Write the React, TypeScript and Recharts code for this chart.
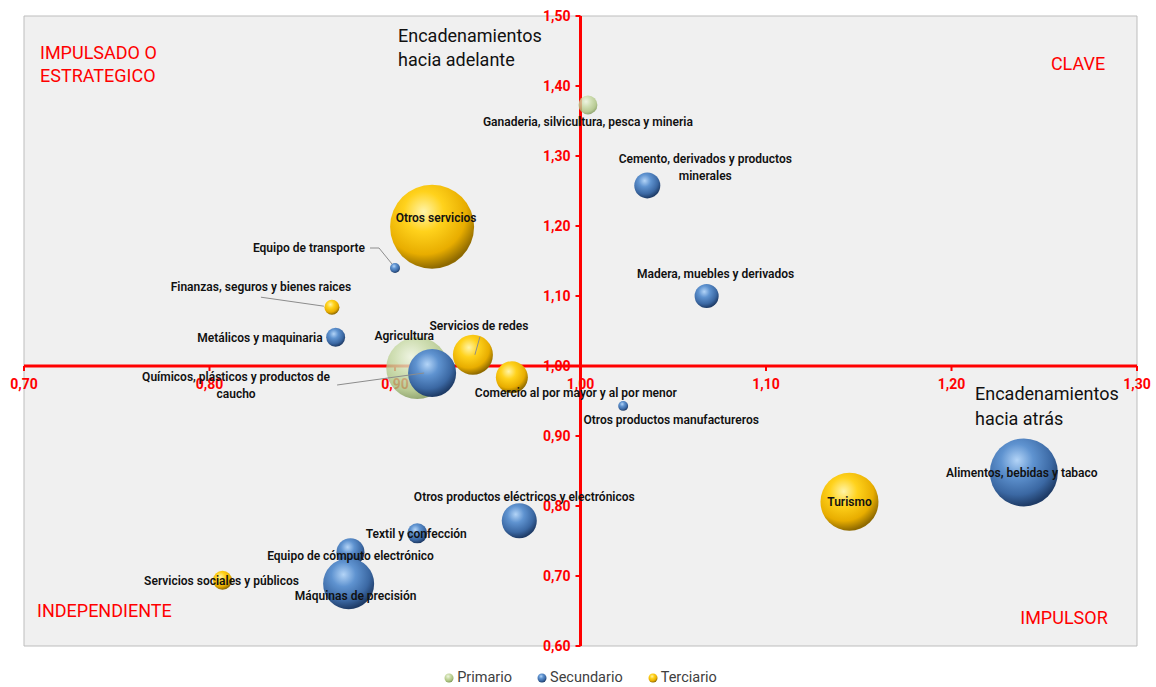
import {
  CartesianGrid,
  LabelList,
  Legend,
  ReferenceDot,
  ReferenceLine,
  Scatter,
  ScatterChart,
  XAxis,
  YAxis,
  ZAxis,
} from "recharts";

// Sector values: x = backward linkage, y = forward linkage, z = bubble size
const PRIMARIO_NAMES = ["Ganaderia, silvicultura, pesca y mineria", "Agricultura"];
const PRIMARIO_X = [1.004, 0.912];
const PRIMARIO_Y = [1.373, 0.997];
const PRIMARIO_Z = [5.1, 54.5];

const SECUNDARIO_NAMES = [
  "Cemento, derivados y productos minerales",
  "Madera, muebles y derivados",
  "Equipo de transporte",
  "Metálicos y maquinaria",
  "Químicos, plásticos y productos de caucho",
  "Otros productos manufactureros",
  "Otros productos eléctricos y electrónicos",
  "Textil y confección",
  "Equipo de cómputo electrónico",
  "Máquinas de precisión",
  "Alimentos, bebidas y tabaco",
];
const SECUNDARIO_X = [1.036, 1.068, 0.9, 0.868, 0.92, 1.023, 0.967, 0.912, 0.876, 0.875, 1.239];
const SECUNDARIO_Y = [1.258, 1.1, 1.14, 1.041, 0.99, 0.943, 0.779, 0.761, 0.734, 0.689, 0.848];
const SECUNDARIO_Z = [9.6, 8.2, 1.4, 5.1, 32.7, 1.4, 17.4, 5.7, 11.1, 36.9, 65.5];

const TERCIARIO_NAMES = [
  "Otros servicios",
  "Finanzas, seguros y bienes raices",
  "Servicios de redes",
  "Comercio al por mayor y al por menor",
  "Turismo",
  "Servicios sociales y públicos",
];
const TERCIARIO_X = [0.92, 0.866, 0.942, 0.963, 1.145, 0.807];
const TERCIARIO_Y = [1.199, 1.084, 1.016, 0.984, 0.806, 0.694];
const TERCIARIO_Z = [100, 3.2, 22.7, 14.5, 47.7, 5.1];

const X_TICKS = [0.7, 0.8, 0.9, 1.0, 1.1, 1.2, 1.3];
const Y_TICKS = [0.6, 0.7, 0.8, 0.9, 1.0, 1.1, 1.2, 1.3, 1.4, 1.5];

const build = (names: string[], xs: number[], ys: number[], zs: number[]) =>
  names.map((name, i) => ({ name, x: xs[i], y: ys[i], z: zs[i] }));

const primario = build(PRIMARIO_NAMES, PRIMARIO_X, PRIMARIO_Y, PRIMARIO_Z);
const secundario = build(SECUNDARIO_NAMES, SECUNDARIO_X, SECUNDARIO_Y, SECUNDARIO_Z);
const terciario = build(TERCIARIO_NAMES, TERCIARIO_X, TERCIARIO_Y, TERCIARIO_Z);

const RED = "#ff0000";
const FONT = "Roboto, 'Liberation Sans', sans-serif";
const MAX_R = 42;

// label placement relative to the bubble centre (pixels), as moved by hand in the original
type LabelLayout = {
  dx: number;
  dy: number;
  anchor?: "start" | "middle" | "end";
  lines?: string[];
  leader?: number[][];
};
const LABELS: Record<string, LabelLayout> = {
  "Ganaderia, silvicultura, pesca y mineria": { dx: 0, dy: 17 },
  Agricultura: { dx: -13, dy: -32 },
  "Cemento, derivados y productos minerales": {
    dx: 58,
    dy: -26,
    lines: ["Cemento, derivados y productos", "minerales"],
  },
  "Madera, muebles y derivados": { dx: 9, dy: -22 },
  "Equipo de transporte": {
    dx: -30,
    dy: -20,
    anchor: "end",
    leader: [[-25, -20], [-16, -20], [-3, -4]],
  },
  "Metálicos y maquinaria": { dx: -13, dy: 1, anchor: "end" },
  "Químicos, plásticos y productos de caucho": {
    dx: -196,
    dy: 4,
    lines: ["Químicos, plásticos y productos de", "caucho"],
    leader: [[-95, 12], [-8, 0]],
  },
  "Otros productos manufactureros": { dx: 48, dy: 14 },
  "Otros productos eléctricos y electrónicos": { dx: 5, dy: -24 },
  "Textil y confección": { dx: -1, dy: 1 },
  "Equipo de cómputo electrónico": { dx: 0, dy: 4 },
  "Máquinas de precisión": { dx: 7, dy: 12 },
  "Alimentos, bebidas y tabaco": { dx: -2, dy: 1 },
  "Otros servicios": { dx: 4, dy: -9 },
  "Finanzas, seguros y bienes raices": {
    dx: -71,
    dy: -20,
    leader: [[-71, -10], [-8, -1]],
  },
  "Servicios de redes": { dx: 6, dy: -29, leader: [[7, -18], [2, 0]] },
  "Comercio al por mayor y al por menor": { dx: 64, dy: 16 },
  Turismo: { dx: 0, dy: 0 },
  "Servicios sociales y públicos": { dx: -1, dy: 1 },
};

const fmt = (v: number) => v.toFixed(2).replace(".", ",");

const bubble = (gradId: string, opacity = 1) => (props: any) => {
  const r = props.size ? Math.sqrt(props.size / Math.PI) : (props.width || 0) / 2;
  return (
    <circle cx={props.cx} cy={props.cy} r={r} fill={`url(#${gradId})`} fillOpacity={opacity} />
  );
};

function BubbleLabel(props: any) {
  const vb = props.viewBox || props;
  const cx = vb.x + (vb.width || 0) / 2;
  const cy = vb.y + (vb.height || 0) / 2;
  const layout = LABELS[props.value] || { dx: 0, dy: 0 };
  const lines = layout.lines || [props.value];
  return (
    <g>
      {layout.leader && (
        <polyline
          points={layout.leader.map(([a, b]) => `${cx + a},${cy + b}`).join(" ")}
          fill="none"
          stroke="#8c8c8c"
          strokeWidth={1}
        />
      )}
      {lines.map((line, i) => (
        <text
          key={i}
          x={cx + layout.dx}
          y={cy + layout.dy + i * 17}
          textAnchor={layout.anchor || "middle"}
          dominantBaseline="central"
          fontFamily={FONT}
          fontSize={12}
          fontWeight={600}
          fill="#111"
        >
          {line}
        </text>
      ))}
    </g>
  );
}

const SERIES = [
  { name: "Primario", data: primario, grad: "gPri", opacity: 0.8 },
  { name: "Secundario", data: secundario, grad: "gSec", opacity: 1 },
  { name: "Terciario", data: terciario, grad: "gTer", opacity: 1 },
];

const renderLegend = () => (
  <div
    style={{
      height: 41,
      display: "flex",
      justifyContent: "center",
      alignItems: "flex-end",
      gap: 25,
      fontFamily: FONT,
      fontSize: 14.5,
      color: "#404040",
    }}
  >
    {SERIES.map((s) => (
      <span key={s.name} style={{ display: "flex", alignItems: "center", gap: 3, lineHeight: "18px" }}>
        <svg width={10} height={10}>
          <circle cx={5} cy={5} r={4.5} fill={`url(#${s.grad})`} />
        </svg>
        {s.name}
      </span>
    ))}
  </div>
);

const textStyle = (extra: React.CSSProperties): React.CSSProperties => ({
  position: "absolute",
  fontFamily: FONT,
  whiteSpace: "nowrap",
  pointerEvents: "none",
  ...extra,
});

export default function App() {
  return (
    <div style={{ position: "relative", width: 1156, height: 687 }}>
      <style>{"body{margin:0}"}</style>
      <ScatterChart width={1156} height={687} margin={{ top: 16, right: 19, bottom: 0, left: 24 }}>
        <defs>
          <radialGradient id="gSec" cx="40%" cy="32%" r="68%">
            <stop offset="0%" stopColor="#b3d4f7" />
            <stop offset="35%" stopColor="#5f93d0" />
            <stop offset="75%" stopColor="#3b68a3" />
            <stop offset="100%" stopColor="#1e3b66" />
          </radialGradient>
          <radialGradient id="gTer" cx="40%" cy="32%" r="68%">
            <stop offset="0%" stopColor="#fff4a8" />
            <stop offset="35%" stopColor="#ffd21c" />
            <stop offset="75%" stopColor="#e8ad00" />
            <stop offset="100%" stopColor="#8f6a00" />
          </radialGradient>
          <radialGradient id="gPri" cx="40%" cy="32%" r="68%">
            <stop offset="0%" stopColor="#eef5df" />
            <stop offset="40%" stopColor="#c9dba6" />
            <stop offset="80%" stopColor="#a9c07c" />
            <stop offset="100%" stopColor="#7f9857" />
          </radialGradient>
        </defs>
        <CartesianGrid stroke="#bdbdbd" fill="#f0f0f0" strokeWidth={1} />
        <XAxis
          type="number"
          dataKey="x"
          domain={[0.7, 1.3]}
          ticks={X_TICKS}
          tick={false}
          tickLine={false}
          axisLine={false}
          height={0}
        />
        <YAxis
          type="number"
          dataKey="y"
          domain={[0.6, 1.5]}
          ticks={Y_TICKS}
          tick={false}
          tickLine={false}
          axisLine={false}
          width={0}
        />
        <ZAxis type="number" dataKey="z" domain={[0, 100]} range={[0, Math.PI * MAX_R * MAX_R]} />
        <Legend verticalAlign="bottom" content={renderLegend} />
        <ReferenceLine x={1} stroke={RED} strokeWidth={3} />
        <ReferenceLine y={1} stroke={RED} strokeWidth={3} />
        {X_TICKS.map((v) => (
          <ReferenceDot
            key={`x${v}`}
            x={v}
            y={1}
            r={0}
            shape={(p: any) => (
              <g>
                <line x1={p.cx} y1={p.cy} x2={p.cx} y2={p.cy + 5} stroke={RED} strokeWidth={2} />
                <text
                  x={p.cx}
                  y={p.cy + 18}
                  textAnchor="middle"
                  dominantBaseline="central"
                  fontFamily={FONT}
                  fontSize={14}
                  fontWeight={700}
                  fill={RED}
                >
                  {fmt(v)}
                </text>
              </g>
            )}
          />
        ))}
        {Y_TICKS.map((v) => (
          <ReferenceDot
            key={`y${v}`}
            x={1}
            y={v}
            r={0}
            shape={(p: any) => (
              <g>
                <line x1={p.cx - 5} y1={p.cy} x2={p.cx} y2={p.cy} stroke={RED} strokeWidth={2} />
                <text
                  x={p.cx - 10}
                  y={p.cy}
                  textAnchor="end"
                  dominantBaseline="central"
                  fontFamily={FONT}
                  fontSize={14}
                  fontWeight={700}
                  fill={RED}
                >
                  {fmt(v)}
                </text>
              </g>
            )}
          />
        ))}
        {SERIES.map((s) => (
          <Scatter
            key={s.name}
            name={s.name}
            data={s.data}
            shape={bubble(s.grad, s.opacity)}
            isAnimationActive={false}
          >
            <LabelList dataKey="name" content={BubbleLabel} />
          </Scatter>
        ))}
      </ScatterChart>

      <div style={textStyle({ left: 40, top: 41, fontSize: 18, lineHeight: "23px", color: RED })}>
        IMPULSADO O<br />
        ESTRATEGICO
      </div>
      <div style={textStyle({ left: 1078, top: 63, transform: "translate(-50%,-50%)", fontSize: 18, color: RED })}>
        CLAVE
      </div>
      <div style={textStyle({ left: 37, top: 610, transform: "translateY(-50%)", fontSize: 18, color: RED })}>
        INDEPENDIENTE
      </div>
      <div style={textStyle({ left: 1064, top: 617, transform: "translate(-50%,-50%)", fontSize: 18, color: RED })}>
        IMPULSOR
      </div>
      <div style={textStyle({ left: 398, top: 24, fontSize: 18, lineHeight: "24px", color: "#111" })}>
        Encadenamientos
        <br />
        hacia adelante
      </div>
      <div style={textStyle({ left: 975, top: 381, fontSize: 18, lineHeight: "25px", color: "#111" })}>
        Encadenamientos
        <br />
        hacia atrás
      </div>
    </div>
  );
}
